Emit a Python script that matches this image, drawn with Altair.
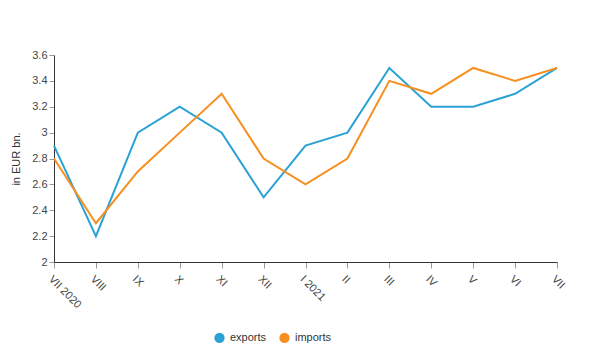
import altair as alt
import pandas as pd

months = ["VII 2020", "VIII", "IX", "X", "XI", "XII", "I 2021", "II", "III", "IV", "V", "VI", "VII"]
exports = [2.9, 2.2, 3.0, 3.2, 3.0, 2.5, 2.9, 3.0, 3.5, 3.2, 3.2, 3.3, 3.5]
imports = [2.8, 2.3, 2.7, 3.0, 3.3, 2.8, 2.6, 2.8, 3.4, 3.3, 3.5, 3.4, 3.5]

rows = []
for i, m in enumerate(months):
    rows.append({"month": m, "series": "exports", "value": exports[i], "order": i})
    rows.append({"month": m, "series": "imports", "value": imports[i], "order": i})
df = pd.DataFrame(rows)

chart = alt.Chart(df).mark_line(strokeWidth=2).encode(
    x=alt.X("month:N", sort=months,
            scale=alt.Scale(type="point", padding=0),
            axis=alt.Axis(title=None, labelAngle=45, labelAlign="left", labelBaseline="top",
                          labelFont="Liberation Sans", labelFontSize=11, labelColor="#444",
                          domainColor="#333", tickColor="#999", tickSize=6, labelPadding=5, grid=False)),
    y=alt.Y("value:Q", scale=alt.Scale(domain=[2, 3.6], nice=False, zero=False),
            axis=alt.Axis(title="in EUR bn.", values=[2, 2.2, 2.4, 2.6, 2.8, 3, 3.2, 3.4, 3.6],
                          format="~g",
                          grid=False, labelFont="Liberation Sans", labelFontSize=11, labelColor="#444",
                          titleFont="Liberation Sans", titleFontSize=11, titleFontWeight="normal",
                          titleColor="#333", domainColor="#333", tickColor="#999", tickSize=5,
                          titlePadding=10)),
    color=alt.Color("series:N", scale=alt.Scale(domain=["exports", "imports"], range=["#2ba2d4", "#f68f1f"]),
                    legend=alt.Legend(title=None, orient="none", legendX=160, legendY=277, direction="horizontal",
                                      symbolType="circle", symbolSize=28, symbolStrokeWidth=5,
                                      labelFont="Liberation Sans", labelOffset=5,
                                      labelFontSize=11, labelColor="#333", columnPadding=4)),
    order="order:Q",
).properties(
    width=503, height=207,
    padding={"left": 54, "top": 55, "right": 36, "bottom": 91},
    autosize=alt.AutoSizeParams(type="none"),
).configure_view(stroke=None)

chart.save("out.html", embed_options={"renderer": "svg", "actions": False})
